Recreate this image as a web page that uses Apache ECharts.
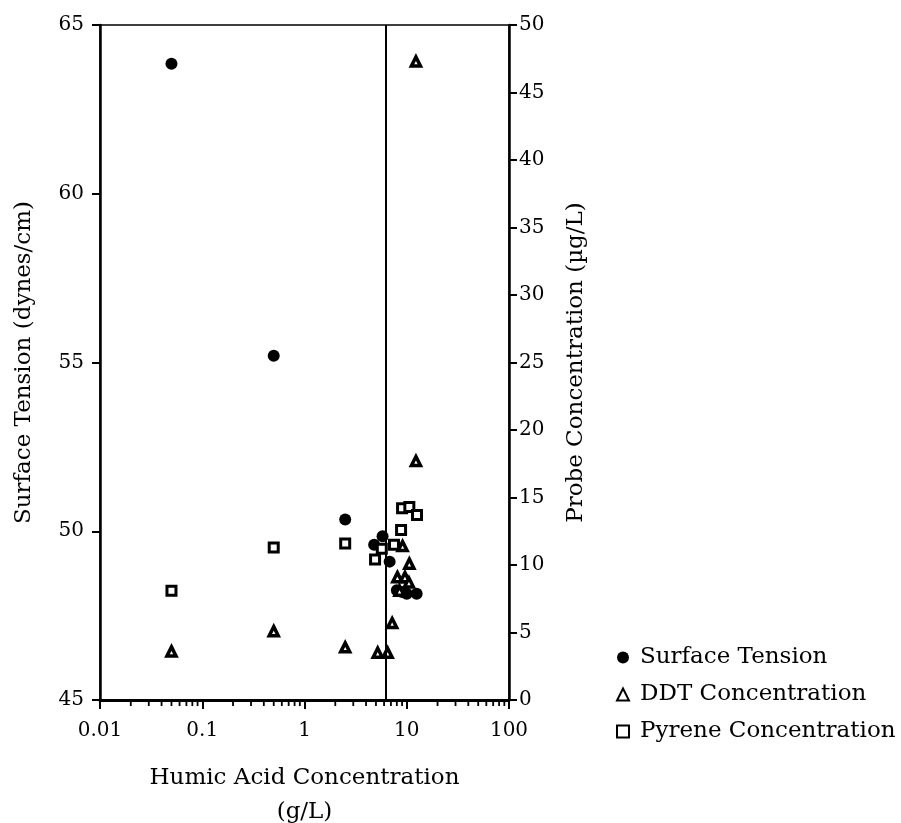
<!DOCTYPE html>
<html>
<head>
<meta charset="utf-8">
<script src="https://cdn.jsdelivr.net/npm/echarts@6/dist/echarts.min.js"></script>
<style>html,body{margin:0;padding:0;background:#fff;}#c{width:901px;height:823px;}</style>
</head>
<body>
<div id="c"></div>
<script>
// Surface tension (left axis, dynes/cm) vs humic acid conc (g/L)
var surfaceX = [0.05, 0.5, 2.5, 4.8, 5.8, 6.8, 8.0, 9.0, 10.0, 12.5];
var surfaceY = [63.85, 55.2, 50.35, 49.6, 49.85, 49.1, 48.25, 48.2, 48.15, 48.15];
// DDT concentration (right axis, µg/L)
var ddtX = [0.05, 0.5, 2.5, 5.2, 6.5, 7.2, 8.1, 9.6, 9.1, 10.6, 8.5, 10.5, 12.3, 12.3];
var ddtY = [3.6, 5.1, 3.9, 3.5, 3.5, 5.7, 9.1, 9.1, 11.4, 10.1, 8.1, 8.7, 17.7, 47.3];
// Pyrene concentration (right axis, µg/L)
var pyreneX = [0.05, 0.5, 2.5, 4.9, 5.7, 7.5, 8.8, 9.0, 10.6, 12.6];
var pyreneY = [8.1, 11.3, 11.6, 10.4, 11.2, 11.5, 12.6, 14.2, 14.3, 13.7];
// vertical reference line (g/L)
var cmcLine = 6.3;
// axis settings
var xMin = 0.01, xMax = 100;
var leftMin = 45, leftMax = 65, leftStep = 5;
var rightMin = 0, rightMax = 50, rightStep = 5;
var minorTickValues = [0.02,0.03,0.04,0.05,0.06,0.07,0.08,0.09,
  0.2,0.3,0.4,0.5,0.6,0.7,0.8,0.9,
  2,3,4,5,6,7,8,9,
  20,30,40,50,60,70,80,90];
var seriesNames = ['Surface Tension', 'DDT Concentration', 'Pyrene Concentration'];

function pairs(xs, ys){ return xs.map(function(x,i){ return [x, ys[i]]; }); }

var FONT = 'DejaVu Serif';
var chart = echarts.init(document.getElementById('c'), null, {renderer:'canvas'});
chart.setOption({
  animation: false,
  backgroundColor: '#fff',
  textStyle: {fontFamily: FONT, color: '#000'},
  grid: {left: 100, right: 392, top: 25, bottom: 123, containLabel: false, outerBoundsMode: 'none',
    show: true, borderColor: '#000', borderWidth: 1.5, backgroundColor: 'transparent'},
  legend: {
    orient: 'vertical', left: 611, top: 641, itemGap: 14,
    itemWidth: 12, itemHeight: 12,
    data: seriesNames,
    textStyle: {fontFamily: FONT, fontSize: 23, color: '#000', padding: [0,0,0,6]}
  },
  xAxis: {
    type: 'log', logBase: 10, min: xMin, max: xMax,
    name: 'Humic Acid Concentration\n(g/L)', nameLocation: 'middle', nameGap: 61,
    nameTextStyle: {fontFamily: FONT, fontSize: 23, color: '#000', lineHeight: 34},
    axisLine: {lineStyle: {color: '#000', width: 3}},
    axisTick: {show: true, inside: false, length: 9, lineStyle: {color: '#000', width: 2}},
    axisLabel: {fontFamily: FONT, fontSize: 20, color: '#000', margin: 21,
      formatter: function(v){ return String(v); }},
    splitLine: {show: false}
  },
  yAxis: [{
    type: 'value', position: 'left', min: leftMin, max: leftMax, interval: leftStep,
    name: 'Surface Tension (dynes/cm)', nameLocation: 'middle', nameGap: 64, nameRotate: 90,
    nameTextStyle: {fontFamily: FONT, fontSize: 23, color: '#000'},
    axisLine: {show: true, lineStyle: {color: '#000', width: 2.5}},
    axisTick: {show: true, length: 8, lineStyle: {color: '#000', width: 2}},
    axisLabel: {fontFamily: FONT, fontSize: 20, color: '#000', margin: 16},
    splitLine: {show: false}
  }, {
    type: 'value', position: 'right', min: rightMin, max: rightMax, interval: rightStep,
    name: 'Probe Concentration (µg/L)', nameLocation: 'middle', nameGap: 56, nameRotate: 90,
    nameTextStyle: {fontFamily: FONT, fontSize: 23, color: '#000'},
    axisLine: {show: true, lineStyle: {color: '#000', width: 2.5}},
    axisTick: {show: true, length: 8, lineStyle: {color: '#000', width: 2}},
    axisLabel: {fontFamily: FONT, fontSize: 20, color: '#000', margin: 10},
    splitLine: {show: false}
  }],
  series: [{
    name: seriesNames[0], type: 'scatter', yAxisIndex: 0,
    symbol: 'circle', symbolSize: 12,
    itemStyle: {color: '#000', opacity: 1},
    data: pairs(surfaceX, surfaceY),
    markLine: {silent: true, symbol: ['none','none'], label: {show: false},
      lineStyle: {color: '#000', width: 2, type: 'solid'},
      data: [{xAxis: cmcLine}]}
  }, {
    name: seriesNames[1], type: 'scatter', yAxisIndex: 1,
    symbol: 'triangle', symbolSize: 9,
    itemStyle: {color: '#fff', borderColor: '#000', borderWidth: 3.5, opacity: 1},
    data: pairs(ddtX, ddtY)
  }, {
    name: seriesNames[2], type: 'scatter', yAxisIndex: 1,
    symbol: 'rect', symbolSize: 9,
    itemStyle: {color: '#fff', borderColor: '#000', borderWidth: 3, opacity: 1},
    data: pairs(pyreneX, pyreneY)
  }, {
    name: 'minorTicks', type: 'custom', yAxisIndex: 0, silent: true, clip: false,
    data: minorTickValues.map(function(v){ return [v, leftMin]; }),
    renderItem: function(params, api){
      var p = api.coord([api.value(0), leftMin]);
      return {type: 'line', shape: {x1: p[0], y1: p[1], x2: p[0], y2: p[1] + 6},
        style: {stroke: '#000', lineWidth: 1.8}};
    }
  }]
});
</script>
</body>
</html>
